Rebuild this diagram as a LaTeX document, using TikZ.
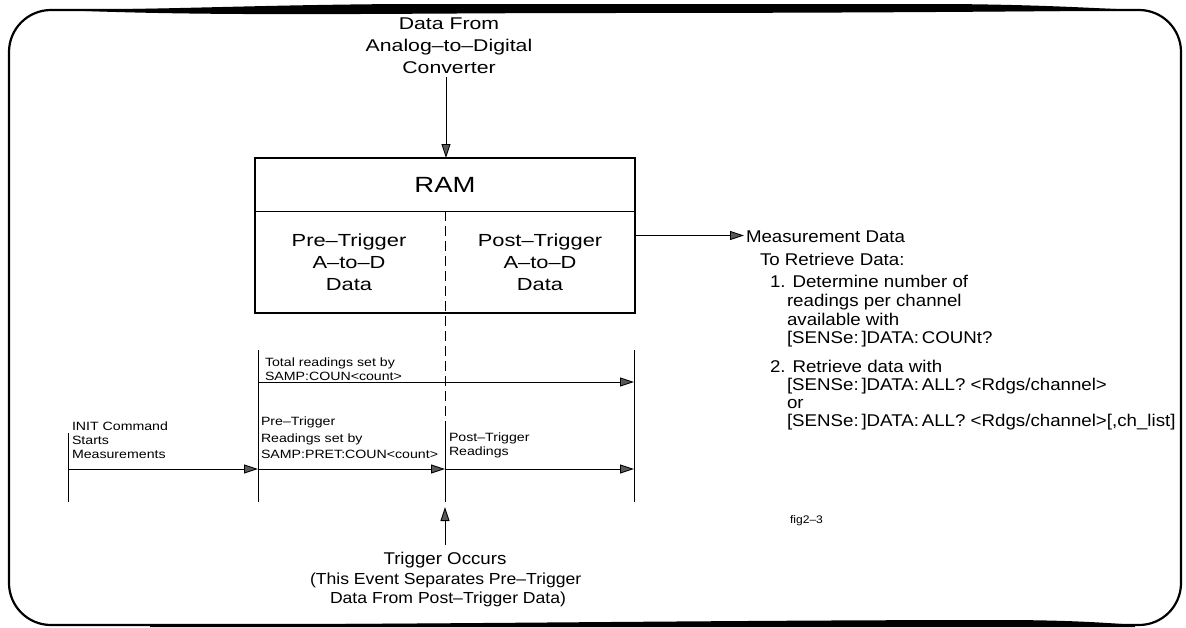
\documentclass[tikz,border=0pt]{standalone}
\usepackage{fontspec}
\setmainfont{Liberation Sans}[FakeStretch=1.1]
\newfontfamily\widefont{Liberation Sans}[FakeStretch=1.25]
\newfontfamily\notefont{Liberation Sans}[FakeStretch=1.18]
\usetikzlibrary{arrows.meta}
\begin{document}
\begin{tikzpicture}[x=1pt,y=-1pt,
  every node/.style={inner sep=0pt, outer sep=0pt},
  lbl/.style={font=\fontsize{17}{22}\selectfont},
  wide/.style={font=\widefont\fontsize{17.5}{22}\selectfont},
  big/.style={font=\widefont\fontsize{22}{26}\selectfont},
  note/.style={font=\notefont\fontsize{12}{14}\selectfont, align=left, anchor=north west},
  rline/.style={lbl, anchor=base west},
  wire/.style={line width=0.9pt},
  flow/.style={wire, -{Triangle[length=14pt,width=9pt,fill=black!65]}},
  frame/.style={line width=2.2pt}]
\useasboundingbox (0,0) rectangle (1186,627);

% rounded page frame with swelling top and bottom edges
\draw[frame, rounded corners=42pt] (9,10) rectangle (1181,625);
\fill (60,10) .. controls (180,9) and (260,5) .. (400,4) -- (950,4)
      .. controls (1060,5) and (1100,9) .. (1145,10)
      .. controls (1000,12) and (800,13) .. (600,13)
      .. controls (400,13) and (220,17) .. (60,10) -- cycle;
\fill (150,625) .. controls (450,624) and (750,620) .. (1000,620)
      .. controls (1070,620) and (1110,623) .. (1135,625) -- (1135,627) -- (150,627) -- cycle;

% RAM block
\node[draw, line width=2.5pt, minimum width=380pt, minimum height=155pt] (ram) at (445,235.5) {};
\coordinate (divy) at (0,211);
\draw[wire] (ram.west |- divy) -- (ram.east |- divy);
\node[big] (ramtitle) at (445,185) {RAM};
\node[wide, align=center] (pre) at (349,262) {Pre–Trigger\\A–to–D\\Data};
\node[wide, align=center] (post) at (540,262) {Post–Trigger\\A–to–D\\Data};

% incoming data
\node[wide, font=\widefont\fontsize{17}{22}\selectfont, align=center, anchor=south] (src) at (449,74)
  {Data From\\Analog–to–Digital\\Converter};
\draw[flow] ([yshift=-3pt]src.south -| 446,0) -- (446,0 |- ram.north);

% split between pre- and post-trigger data
\coordinate (splitTop) at (ram.center |- divy);
\coordinate (c0) at (445,431);
\draw[wire, dash pattern=on 10pt off 5pt] (splitTop) -- (c0);

% time line ticks
\coordinate (a0) at (68,433);  \coordinate (a1) at (68,502);
\coordinate (b0) at (258,350); \coordinate (b1) at (258,502);
\coordinate (c1) at (445,502);
\coordinate (d0) at (634,350); \coordinate (d1) at (634,502);
\draw[wire] (a0) -- (a1) (b0) -- (b1) (c0) -- (c1) (d0) -- (d1);

% time line arrows
\coordinate (totY) at (0,382);
\coordinate (runY) at (0,469);
\draw[flow] (b0 |- totY) -- (d0 |- totY);
\draw[flow] (a0 |- runY) -- (b0 |- runY);
\draw[flow] (b0 |- runY) -- (c0 |- runY);
\draw[flow] (c0 |- runY) -- (d0 |- runY);

\node[note] (total) at (265,358) {Total readings set by\\SAMP:COUN<count>};
\node[note] (init) at (72,422) {INIT Command\\Starts\\Measurements};
\node[note, font=\notefont\fontsize{12}{16.5}\selectfont] (prelbl) at (261,417)
  {Pre–Trigger\\Readings set by\\SAMP:PRET:COUN<count>};
\node[note] (postlbl) at (449,433) {Post–Trigger\\Readings};

% trigger event
\coordinate (trigFoot) at (445,545);
\draw[flow] (trigFoot) -- ([yshift=-5pt]c1);
\node[lbl] (trig1) at (445,560) {Trigger Occurs};
\node[lbl, font=\fontsize{16}{20}\selectfont, anchor=west] (trig2) at (310,580) {(This Event Separates Pre–Trigger};
\node[lbl, font=\fontsize{16}{20}\selectfont, anchor=west] (trig3) at (330,599) {Data From Post–Trigger Data)};

% measurement data output
\node[lbl, anchor=west] (meas) at (746,237) {Measurement Data};
\draw[flow] (ram.east) -- ([xshift=-2pt]ram.east -| meas.west);
\node[rline] (r1) at (760,265) {To Retrieve Data:};
\node[rline] (r2) at (770,287) {1. Determine number of};
\node[rline] (r3) at (787,306) {readings per channel};
\node[rline] (r4) at (787,325) {available with};
\node[rline] (r5) at (787,343) {[SENSe:\,]DATA:\,COUNt?};
\node[rline] (r6) at (770,372) {2. Retrieve data with};
\node[rline] (r7) at (787,390) {[SENSe:\,]DATA:\,ALL? <Rdgs/channel>};
\node[rline] (r8) at (787,408) {or};
\node[rline] (r9) at (787,426) {[SENSe:\,]DATA:\,ALL? <Rdgs/channel>[,ch\_list]};

\node[font=\fontsize{11}{13}\selectfont, anchor=west] (fig) at (790,521) {fig2–3};
\end{tikzpicture}
\end{document}
